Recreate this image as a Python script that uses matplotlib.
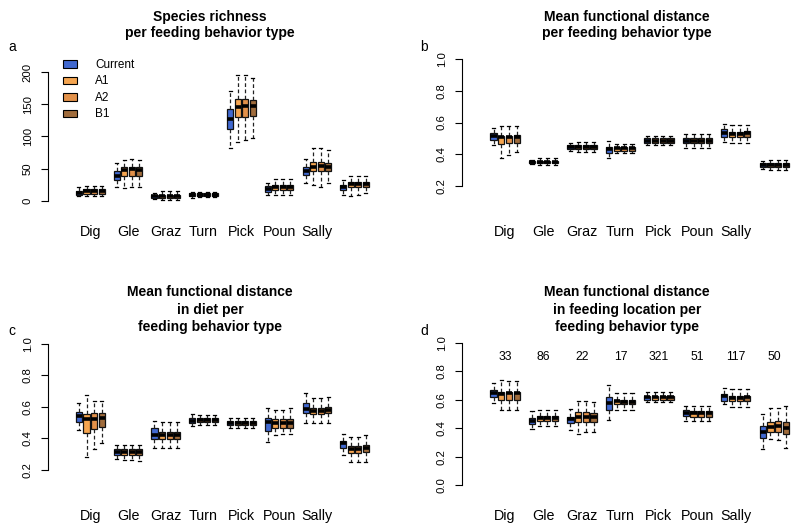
#!/usr/bin/env python3
import matplotlib
import matplotlib.pyplot as plt
from matplotlib.patches import Patch

matplotlib.use("Agg")
plt.rcParams["font.family"] = ["Liberation Sans", "DejaVu Sans"]

categories = ["Dig", "Gle", "Graz", "Turn", "Pick", "Poun", "Sally", ""]
scenarios = ["Current", "A1", "A2", "B1"]
colors = ["#4169d0", "#f5a550", "#e2914a", "#a06c3c"]
counts = [33, 86, 22, 17, 321, 51, 117, 50]

# five-number summaries per category: (whisker low, q1, median, q3, whisker high)
rich_current = [(7, 9, 13, 16, 21), (21, 33, 39, 46, 59), (3, 5, 8, 10, 13), (4, 7, 9, 12, 14),
                (82, 111, 127, 142, 171), (9, 14, 19, 23, 28), (28, 40, 46, 52, 65), (9, 17, 21, 25, 32)]
rich_a1 = [(7, 11, 15, 18, 23), (20, 38, 48, 52, 64), (1, 4, 8, 10, 15), (6, 8, 10, 12, 14),
           (92, 130, 146, 158, 195), (10, 17, 22, 25, 34), (25, 46, 53, 61, 82), (8, 21, 26, 30, 38)]
rich_a2 = [(7, 11, 15, 18, 23), (21, 38, 49, 52, 65), (1, 4, 8, 10, 15), (6, 8, 10, 12, 14),
           (94, 131, 147, 158, 195), (9, 17, 22, 25, 34), (21, 46, 55, 61, 82), (10, 21, 26, 30, 38)]
rich_b1 = [(7, 11, 15, 18, 23), (21, 38, 48, 52, 64), (1, 4, 8, 10, 15), (6, 8, 10, 12, 14),
           (98, 132, 147, 157, 190), (9, 17, 22, 25, 34), (28, 46, 53, 59, 79), (12, 21, 26, 30, 38)]

mfd_current = [(0.456, 0.49, 0.515, 0.536, 0.568), (0.336, 0.343, 0.351, 0.36, 0.366),
               (0.423, 0.433, 0.448, 0.458, 0.473), (0.374, 0.41, 0.431, 0.448, 0.484),
               (0.456, 0.473, 0.486, 0.5, 0.515), (0.437, 0.469, 0.486, 0.5, 0.528),
               (0.477, 0.511, 0.536, 0.557, 0.589), (0.305, 0.318, 0.33, 0.343, 0.355)]
mfd_a1 = [(0.374, 0.463, 0.507, 0.515, 0.578), (0.332, 0.343, 0.351, 0.36, 0.374),
          (0.414, 0.433, 0.448, 0.458, 0.477), (0.41, 0.423, 0.437, 0.448, 0.465),
          (0.456, 0.473, 0.486, 0.5, 0.515), (0.437, 0.469, 0.486, 0.5, 0.528),
          (0.469, 0.511, 0.528, 0.542, 0.584), (0.301, 0.318, 0.33, 0.343, 0.364)]
mfd_a2 = [(0.395, 0.469, 0.507, 0.515, 0.578), (0.332, 0.343, 0.351, 0.36, 0.374),
          (0.414, 0.433, 0.448, 0.458, 0.477), (0.41, 0.423, 0.437, 0.448, 0.465),
          (0.456, 0.473, 0.486, 0.5, 0.515), (0.437, 0.469, 0.486, 0.5, 0.528),
          (0.469, 0.511, 0.528, 0.542, 0.584), (0.301, 0.318, 0.33, 0.343, 0.364)]
mfd_b1 = [(0.416, 0.473, 0.511, 0.521, 0.578), (0.332, 0.343, 0.351, 0.36, 0.374),
          (0.414, 0.433, 0.448, 0.458, 0.477), (0.41, 0.423, 0.437, 0.448, 0.465),
          (0.456, 0.473, 0.486, 0.5, 0.515), (0.437, 0.469, 0.486, 0.5, 0.528),
          (0.469, 0.511, 0.532, 0.546, 0.584), (0.301, 0.318, 0.33, 0.343, 0.364)]

diet_current = [(0.454, 0.503, 0.543, 0.566, 0.623), (0.268, 0.295, 0.314, 0.331, 0.359),
                (0.338, 0.397, 0.422, 0.469, 0.513), (0.479, 0.496, 0.513, 0.528, 0.553),
                (0.469, 0.484, 0.498, 0.511, 0.532), (0.38, 0.45, 0.507, 0.528, 0.596),
                (0.496, 0.56, 0.585, 0.627, 0.687), (0.295, 0.342, 0.369, 0.386, 0.429)]
diet_a1 = [(0.28, 0.437, 0.522, 0.553, 0.676), (0.263, 0.295, 0.314, 0.331, 0.359),
           (0.338, 0.397, 0.422, 0.443, 0.507), (0.486, 0.503, 0.517, 0.528, 0.549),
           (0.469, 0.484, 0.498, 0.511, 0.532), (0.422, 0.469, 0.496, 0.522, 0.581),
           (0.496, 0.553, 0.575, 0.596, 0.655), (0.253, 0.31, 0.331, 0.352, 0.412)]
diet_a2 = [(0.331, 0.458, 0.522, 0.56, 0.64), (0.263, 0.295, 0.314, 0.331, 0.359),
           (0.338, 0.397, 0.422, 0.443, 0.507), (0.486, 0.503, 0.517, 0.528, 0.549),
           (0.469, 0.484, 0.498, 0.511, 0.532), (0.426, 0.469, 0.496, 0.522, 0.581),
           (0.496, 0.553, 0.575, 0.596, 0.655), (0.253, 0.31, 0.331, 0.352, 0.412)]
diet_b1 = [(0.369, 0.475, 0.528, 0.56, 0.64), (0.257, 0.295, 0.314, 0.331, 0.359),
           (0.338, 0.397, 0.422, 0.443, 0.507), (0.486, 0.503, 0.517, 0.528, 0.549),
           (0.469, 0.484, 0.498, 0.511, 0.532), (0.426, 0.469, 0.5, 0.522, 0.591),
           (0.496, 0.56, 0.581, 0.602, 0.666), (0.253, 0.316, 0.338, 0.359, 0.422)]

loc_current = [(0.576, 0.619, 0.647, 0.666, 0.718), (0.395, 0.43, 0.454, 0.47, 0.518),
               (0.388, 0.44, 0.466, 0.482, 0.536), (0.459, 0.525, 0.579, 0.619, 0.701),
               (0.583, 0.6, 0.619, 0.63, 0.654), (0.454, 0.489, 0.508, 0.525, 0.555),
               (0.567, 0.595, 0.624, 0.642, 0.682), (0.254, 0.332, 0.372, 0.419, 0.5)]
loc_a1 = [(0.525, 0.6, 0.642, 0.654, 0.741), (0.419, 0.454, 0.473, 0.489, 0.529),
          (0.36, 0.442, 0.482, 0.513, 0.595), (0.525, 0.567, 0.595, 0.6, 0.647),
          (0.583, 0.6, 0.619, 0.63, 0.654), (0.449, 0.482, 0.506, 0.52, 0.553),
          (0.548, 0.591, 0.612, 0.626, 0.678), (0.325, 0.372, 0.412, 0.447, 0.541)]
loc_a2 = [(0.53, 0.6, 0.647, 0.654, 0.73), (0.419, 0.454, 0.473, 0.489, 0.529),
          (0.372, 0.442, 0.482, 0.513, 0.595), (0.525, 0.567, 0.588, 0.6, 0.647),
          (0.583, 0.6, 0.619, 0.63, 0.654), (0.449, 0.482, 0.506, 0.52, 0.553),
          (0.548, 0.591, 0.612, 0.626, 0.678), (0.32, 0.372, 0.416, 0.449, 0.541)]
loc_b1 = [(0.53, 0.6, 0.647, 0.654, 0.73), (0.419, 0.454, 0.473, 0.489, 0.529),
          (0.372, 0.442, 0.478, 0.506, 0.588), (0.525, 0.567, 0.588, 0.6, 0.647),
          (0.583, 0.6, 0.619, 0.63, 0.654), (0.449, 0.482, 0.506, 0.52, 0.553),
          (0.548, 0.591, 0.619, 0.63, 0.678), (0.261, 0.36, 0.402, 0.442, 0.553)]

W, H = 800, 528


def add_panel(fig, left, top, right, bottom, ylim):
    ax = fig.add_axes([left / W, 1 - bottom / H, (right - left) / W, (bottom - top) / H])
    ax.set_xlim(-3.1, 39.8)
    ax.set_ylim(*ylim)
    return ax


def draw_boxes(ax, series, yticks, ylabels):
    for k, data in enumerate(series):
        stats = []
        for lo, q1, med, q3, hi in data:
            stats.append({"whislo": lo, "q1": q1, "med": med, "q3": q3, "whishi": hi, "fliers": []})
        pos = [5 * g + k + 1 for g in range(len(data))]
        bp = ax.bxp(
            stats, positions=pos, widths=0.8, patch_artist=True, showfliers=False,
            capwidths=0.4, manage_ticks=False,
            boxprops=dict(edgecolor="#111111", linewidth=0.9),
            medianprops=dict(color="black", linewidth=2.6),
            whiskerprops=dict(color="#222222", linewidth=0.9, linestyle=(0, (3, 2))),
            capprops=dict(color="black", linewidth=0.9),
        )
        for b in bp["boxes"]:
            b.set_facecolor(colors[k])

    for s in ["top", "right", "bottom"]:
        ax.spines[s].set_visible(False)
    ax.spines["left"].set_bounds(yticks[0], yticks[-1])
    ax.spines["left"].set_linewidth(0.8)
    ax.set_yticks(yticks)
    ax.set_yticklabels(ylabels, rotation=90, va="center", fontsize=8.2)
    ax.tick_params(axis="y", length=5, width=0.8, pad=6)
    ax.set_xticks([5 * g + 2.5 for g in range(7)])
    ax.set_xticklabels(categories[:7], fontsize=10.3)
    ax.tick_params(axis="x", length=0, pad=11)


fig = plt.figure(figsize=(8, 5.28), dpi=100)

ax_a = add_panel(fig, 48, 62, 372, 210, (-13.95, 215.5))
draw_boxes(ax_a, [rich_current, rich_a1, rich_a2, rich_b1],
           [0, 50, 100, 150, 200], ["0", "50", "100", "150", "200"])

ax_b = add_panel(fig, 462, 52, 792, 210, (0.049, 1.044))
fracs = [0.2, 0.4, 0.6, 0.8, 1.0]
draw_boxes(ax_b, [mfd_current, mfd_a1, mfd_a2, mfd_b1], fracs, [f"{v:.1f}" for v in fracs])

ax_c = add_panel(fig, 48, 337, 372, 494, (0.0476, 1.044))
draw_boxes(ax_c, [diet_current, diet_a1, diet_a2, diet_b1], fracs, [f"{v:.1f}" for v in fracs])

ax_d = add_panel(fig, 462, 337, 792, 494, (-0.063, 1.042))
fracs_d = [0.0, 0.2, 0.4, 0.6, 0.8, 1.0]
draw_boxes(ax_d, [loc_current, loc_a1, loc_a2, loc_b1], fracs_d, [f"{v:.1f}" for v in fracs_d])
for g, n in enumerate(counts):
    ax_d.text(5 * g + 2.5, 0.9, str(n), ha="center", va="center", fontsize=8.7)

titles = [
    (210, [17, 33], ["Species richness", "per feeding behavior type"]),
    (627, [17, 33], ["Mean functional distance", "per feeding behavior type"]),
    (210, [292, 310, 327], ["Mean functional distance", "in diet per", "feeding behavior type"]),
    (627, [292, 310, 327], ["Mean functional distance", "in feeding location per",
                            "feeding behavior type"]),
]
for cx, ys, lines in titles:
    for y, line in zip(ys, lines):
        fig.text(cx / W, 1 - y / H, line, ha="center", va="center", fontsize=10, fontweight="bold")

for letter, x, y in [("a", 12, 47), ("b", 424, 47), ("c", 12, 331), ("d", 424, 331)]:
    fig.text(x / W, 1 - y / H, letter, ha="center", va="center", fontsize=10)

handles = [Patch(facecolor=c, edgecolor="black", linewidth=0.8, label=s)
           for c, s in zip(colors, scenarios)]
ax_a.legend(handles=handles, loc="upper left", bbox_to_anchor=(63 / W, 1 - 59 / H),
            bbox_transform=fig.transFigure, frameon=False, fontsize=8.5,
            handlelength=1.15, handleheight=0.6, handletextpad=1.55, labelspacing=0.38,
            borderpad=0, borderaxespad=0)

fig.savefig("out.png", dpi=100)
